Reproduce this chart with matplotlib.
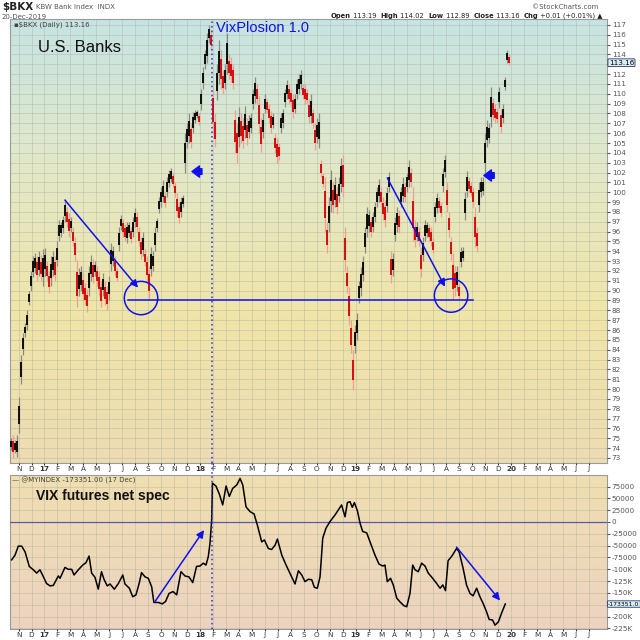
import numpy as np
import matplotlib
matplotlib.use('Agg')
import matplotlib.pyplot as plt
from matplotlib.colors import LinearSegmentedColormap
from matplotlib.patches import Ellipse

# x units: months since 1 Oct 2016
# $BKX bars (low / high), evenly spaced from mid Oct 2016 to 20 Dec 2019
bkx_low = [73.8, 73.0, 73.5, 73.1, 75.5, 80.5, 83.5, 85.3, 86.0, 88.5,
           90.0, 91.4, 91.8, 91.0, 91.5, 91.0, 90.5, 91.5, 91.0, 89.8,
           90.5, 91.5, 91.0, 92.5, 95.0, 95.5, 95.9, 97.0, 96.5, 95.5,
           96.0, 94.5, 93.0, 88.3, 89.5, 90.0, 89.0, 88.5, 87.8, 89.5,
           91.0, 90.8, 91.5, 90.5, 89.5, 88.3, 89.5, 88.5, 88.0, 89.0,
           92.0, 92.5, 91.5, 91.0, 94.0, 96.2, 95.5, 95.0, 94.8, 95.5,
           94.8, 95.5, 96.5, 96.0, 94.5, 93.2, 93.5, 92.5, 91.0, 89.1,
           91.5, 92.0, 94.0, 96.0, 97.9, 98.5, 99.0, 98.5, 99.5, 100.5,
           101.0, 100.5, 99.5, 97.5, 96.9, 97.5, 98.5, 102.0, 104.5, 105.0,
           104.5, 106.0, 107.0, 107.5, 106.8, 108.4, 110.5, 112.5, 113.1, 115.2,
           114.5, 106.0, 104.6, 109.4, 111.0, 110.5, 110.0, 110.5, 112.0, 111.5,
           111.2, 110.5, 104.0, 103.0, 104.6, 105.0, 104.5, 105.5, 104.8, 105.5,
           106.0, 108.5, 109.1, 109.0, 106.0, 104.1, 105.5, 108.0, 108.0, 107.0,
           106.0, 106.5, 104.0, 103.0, 103.3, 106.0, 106.5, 108.7, 109.5, 109.0,
           108.7, 107.5, 108.0, 109.5, 110.0, 110.5, 109.5, 109.0, 109.0, 107.0,
           107.0, 106.5, 104.3, 105.0, 104.5, 101.5, 100.5, 96.0, 93.8, 96.0,
           98.0, 97.9, 98.5, 97.8, 99.0, 100.0, 99.5, 92.0, 89.8, 86.5,
           83.7, 79.9, 83.7, 85.0, 88.7, 89.5, 91.0, 93.8, 95.5, 96.0,
           95.5, 96.0, 97.0, 98.5, 99.0, 98.5, 97.2, 96.5, 98.0, 100.0,
           90.8, 91.5, 95.0, 96.0, 95.9, 98.5, 99.0, 99.0, 100.0, 100.5,
           100.5, 95.0, 94.4, 95.0, 94.5, 91.4, 93.0, 95.0, 95.5, 95.0,
           94.5, 93.8, 97.0, 97.9, 98.0, 97.5, 100.0, 101.5, 98.0, 95.5,
           93.1, 89.0, 89.5, 90.0, 89.0, 92.4, 93.0, 97.2, 99.5, 100.0,
           99.6, 98.5, 94.4, 93.9, 98.0, 99.5, 99.7, 102.0, 104.6, 105.0,
           106.6, 107.3, 107.0, 107.0, 108.6, 106.0, 107.0, 110.4, 113.1, 112.9]
bkx_high = [75.0, 75.3, 74.8, 75.3, 79.2, 83.5, 85.7, 86.7, 88.0, 90.0,
            92.0, 93.5, 93.8, 93.5, 94.0, 93.6, 94.2, 94.3, 93.0, 92.0,
            93.5, 94.0, 93.5, 95.0, 97.2, 97.0, 97.6, 99.3, 98.5, 97.9,
            97.5, 96.5, 95.5, 93.1, 92.3, 92.5, 91.8, 90.8, 90.2, 92.5,
            93.6, 93.2, 93.0, 92.5, 92.0, 91.0, 91.8, 91.0, 90.5, 91.5,
            94.8, 94.5, 93.5, 92.3, 96.5, 97.7, 97.3, 96.8, 97.0, 97.0,
            96.5, 97.5, 98.4, 98.0, 96.5, 95.5, 96.0, 94.2, 93.5, 92.5,
            94.4, 94.0, 96.5, 97.4, 99.5, 100.5, 101.2, 100.0, 101.5, 102.3,
            102.5, 102.0, 101.0, 99.9, 99.0, 99.5, 99.7, 106.0, 107.0, 108.0,
            107.0, 108.2, 108.4, 108.4, 108.0, 110.5, 112.7, 114.5, 116.2, 117.0,
            116.5, 110.7, 108.0, 113.0, 115.5, 114.5, 112.4, 113.0, 116.2, 114.0,
            113.7, 113.0, 108.4, 107.0, 108.7, 108.0, 107.5, 108.8, 107.5, 107.8,
            108.0, 110.5, 111.7, 111.0, 109.8, 107.5, 108.0, 110.0, 109.5, 109.0,
            108.3, 108.0, 106.0, 105.5, 105.0, 108.0, 108.5, 110.5, 111.4, 111.0,
            110.5, 110.0, 110.0, 111.5, 112.0, 112.4, 111.0, 111.0, 110.5, 109.5,
            110.0, 108.5, 107.0, 107.5, 108.0, 103.3, 102.0, 101.5, 97.0, 99.5,
            102.3, 101.0, 101.5, 100.5, 101.5, 103.5, 103.8, 96.5, 92.5, 90.4,
            87.0, 84.0, 86.5, 87.7, 91.0, 92.4, 93.5, 96.5, 98.5, 98.2,
            97.5, 98.0, 99.0, 100.5, 101.3, 100.5, 99.5, 99.2, 100.5, 102.1,
            94.0, 93.8, 97.5, 98.5, 98.2, 100.5, 101.5, 101.0, 102.0, 103.3,
            102.5, 100.5, 97.2, 97.0, 96.5, 94.4, 95.5, 97.2, 97.0, 96.8,
            96.5, 95.3, 99.0, 99.9, 99.5, 99.0, 102.5, 103.8, 101.0, 98.0,
            95.5, 93.8, 92.5, 92.5, 90.8, 94.4, 94.4, 100.0, 102.2, 101.5,
            101.0, 100.5, 98.5, 96.5, 101.0, 101.5, 101.5, 106.0, 107.3, 107.0,
            110.7, 109.6, 109.0, 108.6, 110.7, 108.5, 109.0, 111.7, 114.5, 114.0]
bkx_first_t, bkx_last_t = 0.42, 38.84
bkx_last = 113.16

# VIX futures net speculative position (thousands of contracts)
spec_t = [0.47, 0.73, 0.98, 1.24, 1.50, 1.83, 2.14, 2.40, 2.65, 2.85,
          3.16, 3.43, 3.68, 3.89, 4.07, 4.20, 4.58, 4.84, 5.10, 5.28,
          5.61, 5.95, 6.20, 6.44, 6.64, 6.90, 7.15, 7.40, 7.59, 7.84,
          8.06, 8.39, 8.70, 9.04, 9.21, 9.55, 9.81, 10.06, 10.32, 10.49,
          10.76, 11.01, 11.27, 11.44, 11.78, 12.09, 12.34, 12.61, 12.92, 13.20,
          13.53, 13.84, 14.15, 14.44, 14.73, 15.00, 15.25, 15.46, 15.64, 15.77,
          15.90, 15.96, 16.23, 16.49, 16.75, 17.01, 17.26, 17.52, 17.83, 18.09,
          18.30, 18.55, 18.86, 19.17, 19.42, 19.76, 19.97, 20.27, 20.53, 20.79,
          20.97, 21.31, 21.64, 22.00, 22.33, 22.59, 22.85, 23.10, 23.36, 23.62,
          23.82, 24.05, 24.26, 24.47, 24.72, 25.03, 25.42, 25.75, 25.92, 26.19,
          26.37, 26.57, 26.75, 26.91, 27.14, 27.35, 27.55, 27.86, 28.16, 28.50,
          28.81, 29.10, 29.27, 29.45, 29.70, 29.91, 30.18, 30.47, 30.74, 30.95,
          31.20, 31.41, 31.59, 31.84, 32.10, 32.36, 32.61, 32.95, 33.26, 33.52,
          33.73, 33.94, 34.14, 34.48, 34.79, 34.99, 35.30, 35.56, 35.83, 36.07,
          36.34, 36.60, 36.84, 37.11, 37.31, 37.57, 37.76, 38.02, 38.26, 38.55]
spec_k = [-80, -70, -51, -51, -63, -94, -101, -108, -101, -112,
          -130, -135, -134, -123, -114, -119, -96, -100, -100, -112,
          -101, -91, -86, -72, -108, -117, -142, -105, -121, -135,
          -131, -142, -130, -112, -131, -140, -158, -154, -128, -107,
          -116, -119, -137, -170, -170, -173, -168, -151, -147, -154,
          -105, -114, -116, -128, -94, -93, -87, -91, -73, -45,
          4, 82, 76, 59, 36, 76, 54, 71, 78, 92,
          78, 32, 22, 17, -6, -42, -38, -56, -58, -49,
          -36, -70, -91, -112, -131, -103, -112, -126, -121, -122,
          -138, -140, -116, -34, -13, 1, 15, 29, 36, 11,
          41, 43, 31, 41, 24, -3, -20, -23, -45, -70,
          -89, -93, -91, -126, -119, -133, -161, -170, -177, -179,
          -151, -91, -101, -105, -87, -93, -108, -119, -130, -140,
          -133, -145, -82, -70, -56, -63, -98, -133, -151, -156,
          -140, -158, -172, -190, -206, -207, -218, -211, -193, -173.351]
spec_last = -173351.00

vix_day = 15.95  # 5 Feb 2018
month_letters = 'JFMAMJJASOND'

W = 640
fig = plt.figure(figsize=(6.4, 6.4), dpi=100)
fig.patch.set_facecolor('white')


def rect(x0, y0, x1, y1):
    return [x0 / W, 1 - y1 / W, (x1 - x0) / W, (y1 - y0) / W]


ax = fig.add_axes(rect(10, 19, 607, 463))
ax2 = fig.add_axes(rect(10, 475, 607, 629))
xlim = (0.34, 46.4)
ylim_top = (72.49, 117.6)
ylim_low = (-226.1, 99.3)

# backgrounds
top_cmap = LinearSegmentedColormap.from_list('top', ['#eddcb3', '#f0e5a8', '#e2e8c8', '#c6e4e3'])
low_cmap = LinearSegmentedColormap.from_list('low', ['#ecd3c0', '#f0dfb0'])
grad = np.linspace(0, 1, 256).reshape(-1, 1)
ax.imshow(grad, extent=(xlim[0], xlim[1], ylim_top[0], ylim_top[1]), origin='lower',
          aspect='auto', cmap=top_cmap, zorder=0)
ax2.imshow(grad, extent=(xlim[0], xlim[1], ylim_low[0], ylim_low[1]), origin='lower',
           aspect='auto', cmap=low_cmap, zorder=0)

# price bars
lo = np.array(bkx_low)
hi = np.array(bkx_high)
bar_t = np.linspace(bkx_first_t, bkx_last_t, len(lo))
mid = (lo + hi) / 2
up = np.r_[True, mid[1:] >= mid[:-1]]
rng = hi - lo
ax.vlines(bar_t[up], lo[up], hi[up], color='#8c8c84', lw=0.9, zorder=3)
ax.vlines(bar_t[~up], lo[~up], hi[~up], color='#eaa293', lw=0.9, zorder=3)
ax.vlines(bar_t[up], lo[up] + 0.25 * rng[up], hi[up] - 0.25 * rng[up], color='black', lw=1.3, zorder=4)
ax.vlines(bar_t[~up], lo[~up] + 0.25 * rng[~up], hi[~up] - 0.25 * rng[~up], color='#d40000', lw=1.3, zorder=4)

# spec line
ax2.plot(spec_t, spec_k, color='black', lw=1.1, zorder=4)
ax2.axhline(0, color='#5858b0', lw=0.9, zorder=3)

# axes / grid
ticks_t = list(range(1, 46))
tick_lab = []
for t in ticks_t:
    m = (t + 9) % 12
    tick_lab.append('%02d' % ((2016 + (t + 9) // 12) % 100) if m == 0 else month_letters[m])

for a in (ax, ax2):
    a.set_xlim(*xlim)
    a.set_xticks(ticks_t)
    a.set_xticklabels(tick_lab)
    a.tick_params(axis='x', labelsize=5.2, length=1.2, pad=1, colors='#333333')
    a.yaxis.tick_right()
    a.tick_params(axis='y', labelsize=5.2, length=2, pad=1.5, colors='#555555')
    a.grid(True, color='#a9ae9c', lw=0.5, alpha=0.55, zorder=1)
    a.set_axisbelow(False)
    for s in a.spines.values():
        s.set_color('#9a9a9a')
        s.set_linewidth(0.8)
    for lab, t in zip(a.get_xticklabels(), ticks_t):
        if (t + 9) % 12 == 0:
            lab.set_fontweight('bold')
    a.axvline(vix_day, color='#3030e0', lw=1.1, ls=(0, (1, 2)), zorder=5)
# dotted line also crosses the label strip between the panels
ax.plot([vix_day, vix_day], [ylim_top[0], ylim_top[0] - 1.25], color='#3030e0', lw=1.1,
        ls=(0, (1, 2)), clip_on=False, zorder=5)

ax.set_ylim(*ylim_top)
yt = list(range(73, 118))
ax.set_yticks(yt)
ax.set_yticklabels(['' if v == 113 else str(v) for v in yt])

ax2.set_ylim(*ylim_low)
yt2 = list(range(-225, 76, 25))
ax2.set_yticks(yt2)
lab2 = []
for v in yt2:
    if v == -175:
        lab2.append('')
    elif v <= -100:
        lab2.append('%dK' % v)
    else:
        lab2.append(str(v * 1000))
ax2.set_yticklabels(lab2)

# last value boxes
box = dict(boxstyle='round,pad=0.12', fc='#d6f0f0', ec='#30307a', lw=0.6)
ax.annotate('%.2f' % bkx_last, xy=(1.003, bkx_last), xycoords=('axes fraction', 'data'),
            fontsize=5.2, va='center', ha='left', bbox=box, annotation_clip=False)
ax2.annotate('%.1f' % spec_last, xy=(1.002, spec_last / 1000), xycoords=('axes fraction', 'data'),
             fontsize=4.4, va='center', ha='left', bbox=box, annotation_clip=False)

# annotations top
blue = '#1010ee'
arrow = dict(arrowstyle='-|>', color=blue, lw=1.1, mutation_scale=11, shrinkA=0, shrinkB=0)
ax.annotate('', xy=(10.22, 90.3), xytext=(4.58, 99.2), arrowprops=arrow, zorder=6)
ax.annotate('', xy=(33.9, 90.4), xytext=(29.45, 101.45), arrowprops=arrow, zorder=6)
ax.plot([9.42, 36.04], [89.05, 89.05], color=blue, lw=1.1, zorder=6)
for cx, cy in [(10.45, 89.25), (34.37, 89.5)]:
    ax.add_patch(Ellipse((cx, cy), 2.58, 3.39, fill=False, ec=blue, lw=1.1, zorder=6))
fat = dict(arrowstyle='simple,head_width=0.9,head_length=0.6,tail_width=0.45', color=blue,
           shrinkA=0, shrinkB=0, mutation_scale=9)
ax.annotate('', xy=(14.38, 102.1), xytext=(15.15, 102.1), arrowprops=fat, zorder=6)
ax.annotate('', xy=(36.9, 101.7), xytext=(37.7, 101.7), arrowprops=fat, zorder=6)

# annotations bottom
ax2.annotate('', xy=(15.31, -17), xytext=(11.53, -168), arrowprops=arrow, zorder=6)
ax2.annotate('', xy=(38.15, -166), xytext=(34.79, -53), arrowprops=arrow, zorder=6)


# texts
def ftext(x, y, s, **kw):
    return fig.text(x / W, 1 - y / W, s, **kw)


ftext(38, 48, 'U.S. Banks', fontsize=12, family='Liberation Sans', va='center', color='#111111')
ftext(216, 28, 'VixPlosion 1.0', fontsize=10.5, family='Liberation Sans', va='center', color=blue)
ftext(36, 496, 'VIX futures net spec', fontsize=10, family='Liberation Sans', fontweight='bold',
      va='center', color='#111111')
ftext(14, 25, '\u25aa$BKX (Daily) 113.16', fontsize=5, va='center', color='#444444')
ftext(12, 480, '\u2014 @MYINDEX -173351.00 (17 Dec)', fontsize=5, va='center', color='#444444')

ftext(2, 7, '$BKX', fontsize=7.5, fontweight='bold', va='center', color='#222222')
ftext(36, 7, 'KBW Bank Index  INDX', fontsize=5, va='center', color='#555555')
ftext(2, 17, '20-Dec-2019', fontsize=5, va='center', color='#555555')
ftext(598, 7, '\u00a9StockCharts.com', fontsize=5, va='center', ha='right', color='#555555')

r = fig.canvas.get_renderer()
pieces = [('Open', 'bold'), (' 113.19  ', 'normal'), ('High', 'bold'), (' 114.02  ', 'normal'),
          ('Low', 'bold'), (' 112.89  ', 'normal'), ('Close', 'bold'), (' 113.16  ', 'normal'),
          ('Chg', 'bold'), (' +0.01 (+0.01%) \u25b2', 'normal')]
txts = []
for s, w in pieces:
    txts.append(ftext(0, 16, s, fontsize=4.9, fontweight=w, va='center', color='#222222'))
widths = [tx.get_window_extent(renderer=r).width for tx in txts]
xx = 603 - sum(widths)
for tx, wd in zip(txts, widths):
    tx.set_x(xx / W)
    xx += wd

fig.savefig('out.png', dpi=100, facecolor='white')
